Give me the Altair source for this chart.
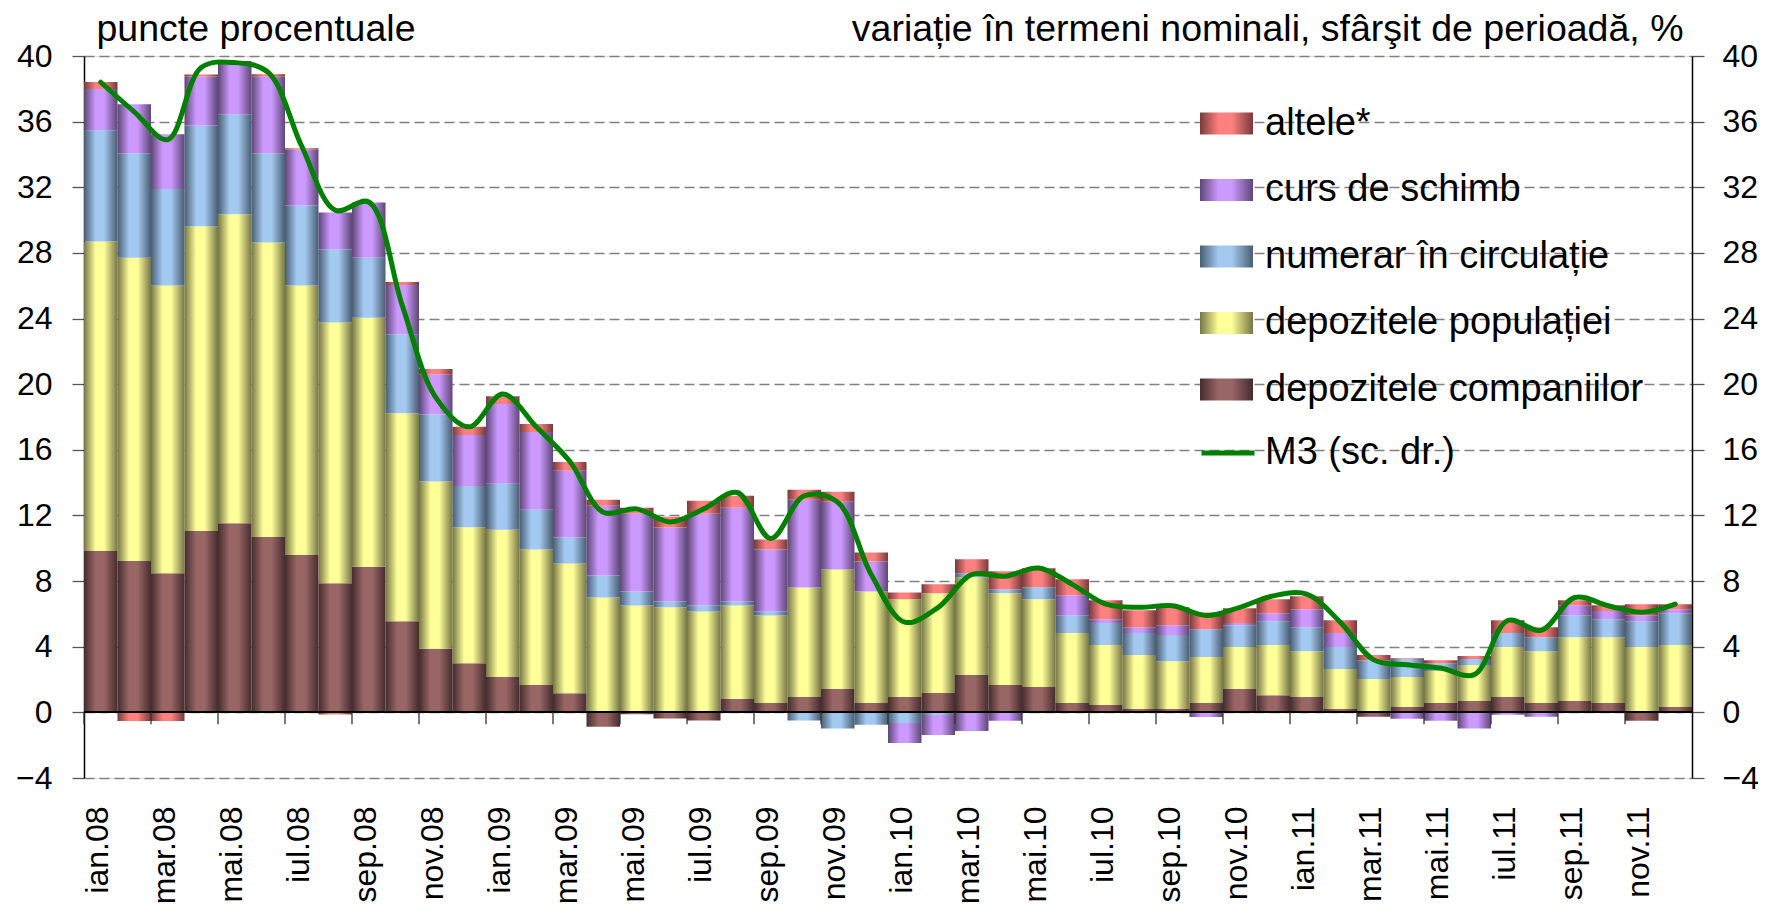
import altair as alt
import pandas as pd

months = [
    "ian.08", "feb.08", "mar.08", "apr.08", "mai.08", "iun.08", "iul.08", "aug.08", "sep.08", "oct.08", "nov.08", "dec.08",
    "ian.09", "feb.09", "mar.09", "apr.09", "mai.09", "iun.09", "iul.09", "aug.09", "sep.09", "oct.09", "nov.09", "dec.09",
    "ian.10", "feb.10", "mar.10", "apr.10", "mai.10", "iun.10", "iul.10", "aug.10", "sep.10", "oct.10", "nov.10", "dec.10",
    "ian.11", "feb.11", "mar.11", "apr.11", "mai.11", "iun.11", "iul.11", "aug.11", "sep.11", "oct.11", "nov.11", "dec.11",
]

companii = [
    9.83, 9.22, 8.48, 11.05, 11.52, 10.68, 9.59, 7.87, 8.87, 5.56, 3.87, 2.99,
    2.15, 1.66, 1.17, -0.87, -0.12, -0.38, -0.50, 0.81, 0.57, 0.93, 1.42, 0.57,
    0.93, 1.18, 2.27, 1.66, 1.54, 0.57, 0.45, 0.20, 0.20, 0.57, 1.42, 1.05,
    0.93, 0.20, -0.26, 0.32, 0.57, 0.69, 0.93, 0.57, 0.69, 0.57, -0.51, 0.32,
]
populatie = [
    18.86, 18.49, 17.53, 18.57, 18.84, 17.96, 16.42, 15.89, 15.18, 12.67, 10.20, 8.29,
    8.98, 8.26, 7.90, 7.00, 6.52, 6.40, 6.15, 5.71, 5.34, 6.68, 7.28, 6.80,
    5.97, 6.08, 5.97, 5.60, 5.36, 4.26, 3.65, 3.29, 2.92, 2.80, 2.56, 3.05,
    2.80, 2.44, 2.03, 1.83, 1.95, 2.19, 3.05, 3.16, 3.89, 4.01, 3.98, 3.78,
]
numerar = [
    6.78, 6.36, 5.88, 6.14, 6.09, 5.43, 4.88, 4.45, 3.66, 4.82, 4.08, 2.52,
    2.80, 2.43, 1.58, 1.34, 0.85, 0.36, 0.37, 0.24, 0.24, -0.50, -0.99, -0.75,
    -0.65, -0.16, 0.24, 0.25, 0.73, 1.09, 1.34, 1.34, 1.59, 1.70, 1.33, 1.46,
    1.46, 1.34, 1.15, 1.10, 0.48, 0.37, 0.85, 0.85, 1.34, 1.10, 1.58, 1.94,
]
curs = [
    2.52, 2.99, 3.34, 2.99, 3.15, 4.68, 3.41, 2.25, 3.36, 2.99, 2.46, 3.10,
    4.86, 4.74, 4.07, 4.25, 4.73, 4.50, 5.58, 5.71, 3.77, 5.35, 4.13, 1.82,
    -1.22, -1.22, -1.14, -0.51, 0.00, 1.22, 0.24, 0.36, 0.60, -0.28, 0.13, 0.48,
    1.10, 0.85, 0.00, -0.39, -0.51, -0.99, -0.14, -0.26, 0.61, 0.49, 0.36, 0.25,
]
altele = [
    0.42, -0.53, -0.53, 0.13, 0.10, 0.14, 0.08, -0.13, 0.00, 0.19, 0.32, 0.50,
    0.48, 0.48, 0.54, 0.37, 0.37, 0.66, 0.79, 0.73, 0.61, 0.60, 0.61, 0.55,
    0.41, 0.55, 0.85, 1.09, 1.15, 0.97, 1.16, 1.04, 1.10, 1.02, 0.91, 0.86,
    0.79, 0.79, 0.31, 0.05, 0.18, 0.18, 0.79, 0.61, 0.31, 0.36, 0.67, 0.30,
]
m3 = [
    38.4, 36.6, 34.9, 39.3, 39.6, 39.0, 34.5, 30.6, 31.1, 24.8, 19.2, 17.4,
    19.4, 17.4, 15.3, 12.2, 12.4, 11.6, 12.4, 13.4, 10.6, 13.2, 12.8, 8.4,
    5.5, 6.4, 8.4, 8.3, 8.8, 7.8, 6.6, 6.4, 6.5, 5.9, 6.4, 7.1,
    7.2, 5.5, 3.2, 2.9, 2.7, 2.3, 5.6, 5.0, 7.0, 6.5, 6.1, 6.6,
]

series_names = [
    "depozitele companiilor",
    "depozitele populației",
    "numerar în circulație",
    "curs de schimb",
    "altele*",
]
series_values = [companii, populatie, numerar, curs, altele]
light_colors = ["#996666", "#ffff99", "#a3c9f0", "#cc99ff", "#ff8080"]
dark_colors = ["#452c2e", "#767646", "#495d72", "#5e4676", "#763a3a"]
m3_label = "M3 (sc. dr.)"
left_title = "puncte procentuale"
right_title = "variație în termeni nominali, sfârşit de perioadă, %"

rows = []
for i, m in enumerate(months):
    for k, (name, vals) in enumerate(zip(series_names, series_values)):
        rows.append({"month": m, "idx": i, "series": name, "order": k, "value": vals[i]})
df = pd.DataFrame(rows)
df_m3 = pd.DataFrame({"month": months, "idx": list(range(len(months))), "m3": m3, "label": m3_label})

FONT = "Liberation Sans"
yvals = list(range(-4, 41, 4))


def grad(light, dark):
    return {
        "gradient": "linear", "x1": 0, "y1": 0, "x2": 1, "y2": 0,
        "stops": [
            {"offset": 0, "color": dark},
            {"offset": 0.35, "color": light},
            {"offset": 0.6, "color": light},
            {"offset": 1, "color": dark},
        ],
    }


def grad_expr(light, dark):
    return ("{gradient:'linear',x1:0,y1:0,x2:1,y2:0,stops:[{offset:0,color:'%s'},{offset:0.35,color:'%s'},"
            "{offset:0.6,color:'%s'},{offset:1,color:'%s'}]}" % (dark, light, light, dark))


sig = "'#999999'"
for name, lc, dc in zip(series_names, light_colors, dark_colors):
    sig = "datum.value === '%s' ? %s : (%s)" % (name, grad_expr(lc, dc), sig)

xscale = alt.Scale(paddingInner=0, paddingOuter=0)
yscale = alt.Scale(domain=[-4, 40], nice=False, zero=False)

x_axis = alt.Axis(
    values=months[::2], labelAngle=-90, labelAlign="right", labelBaseline="middle",
    labelFontSize=32, labelPadding=28, labelFont=FONT, labelColor="black", labelOffset=-3,
    ticks=False, domain=False, grid=False, title=None,
)
left_axis = alt.Axis(
    values=yvals, grid=True, gridDash=[10, 5], gridColor="#808080", gridWidth=1.3,
    tickSize=12, tickColor="#555555", tickWidth=1.3, domainColor="black", domainWidth=1.5,
    labelFontSize=32, labelPadding=20, labelFont=FONT, labelColor="black",
    title=left_title, titleAngle=0, titleX=12, titleY=-16, titleAlign="left",
    titleBaseline="alphabetic", titleFontSize=37.5, titleFontWeight="normal", titleFont=FONT,
    titleColor="black",
)
right_axis = alt.Axis(
    orient="right", values=yvals, grid=False,
    tickSize=12, tickColor="#555555", tickWidth=1.3, domainColor="black", domainWidth=1.5,
    labelFontSize=32, labelPadding=18, labelFont=FONT, labelColor="black",
    title=right_title, titleAngle=0, titleX=-9, titleY=-16, titleAlign="right",
    titleBaseline="alphabetic", titleFontSize=37.5, titleFontWeight="normal", titleFont=FONT,
    titleColor="black",
)

stacked = alt.Chart(df).transform_stack(
    stack="value", groupby=["month"], as_=["y0", "y1"],
    sort=[alt.SortField("order", order="ascending")],
)

bar_layers = []
for k, (name, lc, dc) in enumerate(zip(series_names, light_colors, dark_colors)):
    layer = stacked.transform_filter(alt.datum.series == name).mark_bar(
        color=grad(lc, dc), strokeWidth=0
    ).encode(
        x=alt.X("month:N", sort=months, scale=xscale, axis=x_axis),
        y=alt.Y("y0:Q", scale=yscale, axis=left_axis),
        y2="y1:Q",
    )
    bar_layers.append(layer)

legend_layer = alt.Chart(df).transform_filter("false").mark_bar(
    fill={"expr": sig}
).encode(
    x=alt.X("month:N", sort=months, scale=xscale, axis=x_axis),
    y=alt.Y("value:Q", scale=yscale, axis=left_axis),
    opacity=alt.Opacity(
        "series:N",
        scale=alt.Scale(domain=series_names[::-1], range=[1, 1, 1, 1, 1]),
        legend=alt.Legend(
            orient="none", legendX=1116, legendY=41, title=None, padding=0,
            symbolType="M-1,-0.415H1V0.415H-1Z", symbolSize=2809, symbolStrokeWidth=0,
            symbolOpacity=1,
            labelFontSize=38, labelFont=FONT, labelColor="black", labelLimit=800,
            labelOffset=12, rowPadding=20.5, labelBaseline="middle",
        ),
    ),
)

zero_line = alt.Chart(df_m3).mark_rule(color="black", strokeWidth=1.5).encode(
    y=alt.Y(datum=0, scale=yscale, axis=left_axis)
)
zero_ticks = alt.Chart(df_m3).transform_filter("datum.idx % 2 == 0").mark_rule(
    color="#333333", strokeWidth=1.3, y2Offset=12
).encode(
    x=alt.X("month:N", sort=months, scale=xscale, axis=x_axis, bandPosition=0),
    y=alt.Y(datum=0, scale=yscale, axis=left_axis),
    y2=alt.Y2(datum=0),
)

bars = alt.layer(*bar_layers, legend_layer, zero_line, zero_ticks)

line = alt.Chart(df_m3).mark_line(
    interpolate="catmull-rom", strokeWidth=5, strokeCap="round", strokeJoin="round"
).encode(
    x=alt.X("month:N", sort=months, scale=xscale, axis=x_axis),
    y=alt.Y("m3:Q", scale=yscale, axis=right_axis),
    stroke=alt.Stroke(
        "label:N",
        scale=alt.Scale(domain=[m3_label], range=["#008000"]),
        legend=alt.Legend(
            orient="none", legendX=1115, legendY=368, title=None, padding=0,
            symbolType="stroke", symbolSize=2809, symbolStrokeWidth=5,
            labelFontSize=38, labelFont=FONT, labelColor="black", labelLimit=800,
            labelOffset=8, labelBaseline="middle",
        ),
    ),
)

chart = alt.layer(bars, line).resolve_scale(
    y="independent", opacity="independent", stroke="independent"
).properties(
    width=1608, height=722,
    autosize=alt.AutoSizeParams(type="none"),
    padding={"left": 76, "top": 48, "right": 66, "bottom": 130},
).configure_view(stroke=None).configure(background="white")

chart.save("out.html", embed_options={"renderer": "svg", "actions": False})
